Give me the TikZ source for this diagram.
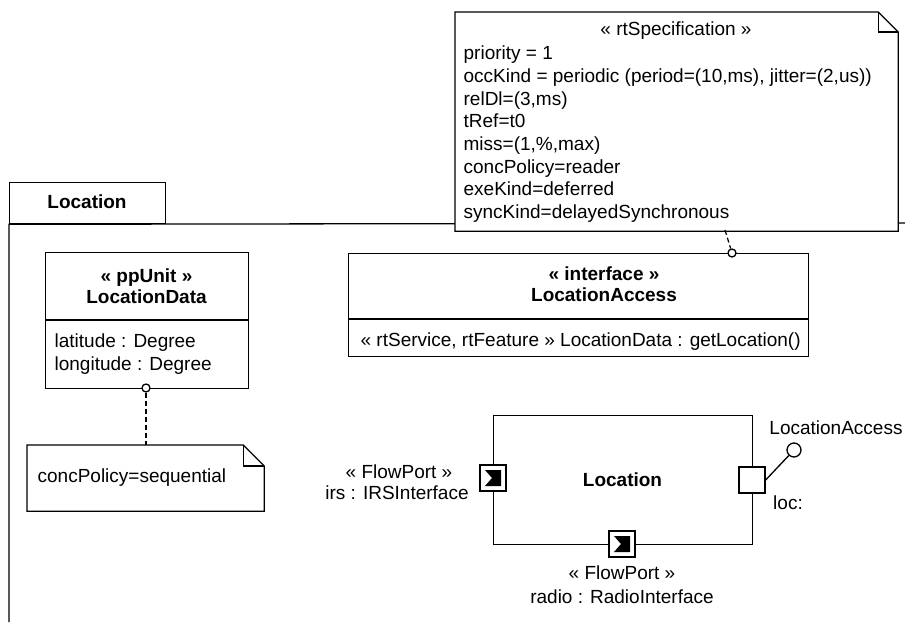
\documentclass[tikz,border=0pt]{standalone}
\usepackage{fontspec}
\setmainfont{Liberation Sans}
\begin{document}
\begin{tikzpicture}[x=1pt,y=-1pt,line width=1.3pt,
  txt/.style={inner sep=0pt,font=\fontsize{19}{22.7}\selectfont},
  btxt/.style={inner sep=0pt,font=\fontsize{19}{22.7}\selectfont\bfseries},
  rect/.style={draw,inner sep=0pt,fill=white},
  blank/.style={inner sep=0pt},
  port/.style={draw,fill=white,inner sep=0pt,minimum size=26pt},
  lolli/.style={circle,draw,fill=white,inner sep=0pt,minimum size=8pt},
  dep/.style={dash pattern=on 5pt off 3pt,line width=1.2pt}]
\useasboundingbox (0,0) rectangle (905,622);

% package frame
\node[rect,minimum width=156pt,minimum height=41pt,anchor=north west] (tab) at (9,182) {};
\node[btxt] (tabl) at (87,202) {Location};
\coordinate (fr1) at (9,622);
\coordinate (fr2) at (905,223);
\draw (fr1) -- (tab.south west) -- (fr2);

% LocationData class
\node[rect,minimum width=203pt,minimum height=136pt,anchor=north west] (ld) at (45,252) {};
\draw ([yshift=-68pt]ld.north west) -- ([yshift=-68pt]ld.north east);
\node[btxt,anchor=base] (ldst) at (146.5,282) {« ppUnit »};
\node[btxt,anchor=base] (ldnm) at (146.5,303) {LocationData};
\node[txt,anchor=base west] (lda1) at (54,347) {latitude : Degree};
\node[txt,anchor=base west] (lda2) at (54,370) {longitude : Degree};

% note concPolicy
\node[blank,minimum width=236pt,minimum height=65pt,anchor=north west] (n1) at (27,445) {};
\draw[fill=white] (n1.north west) -- ([xshift=-21pt]n1.north east) -- ([yshift=-21pt]n1.north east) -- (n1.south east) -- (n1.south west) -- cycle;
\draw ([xshift=-21pt]n1.north east) -- ([xshift=-21pt,yshift=-21pt]n1.north east) -- ([yshift=-21pt]n1.north east);
\node[txt,anchor=base west] (n1t) at (37,482) {concPolicy=sequential};
\node[lolli] (ldc) at (146,388) {};
\draw[dep] (ldc.south) -- (ldc.south |- n1.north);

% LocationAccess interface
\node[rect,minimum width=460pt,minimum height=103pt,anchor=north west] (la) at (348,253) {};
\draw ([yshift=-66pt]la.north west) -- ([yshift=-66pt]la.north east);
\node[btxt,anchor=base] (last) at (604,280) {« interface »};
\node[btxt,anchor=base] (lanm) at (604,301) {LocationAccess};
\node[txt,anchor=base west] (laop) at (360,346) {« rtService, rtFeature » LocationData : getLocation()};

% rtSpecification note
\node[blank,minimum width=442pt,minimum height=218pt,anchor=north west] (n2) at (455,12) {};
\draw[fill=white] (n2.north west) -- ([xshift=-20pt]n2.north east) -- ([yshift=-20pt]n2.north east) -- (n2.south east) -- (n2.south west) -- cycle;
\draw ([xshift=-20pt]n2.north east) -- ([xshift=-20pt,yshift=-20pt]n2.north east) -- ([yshift=-20pt]n2.north east);
\node[txt,anchor=base] (n2t) at (676,35) {« rtSpecification »};
\node[txt,anchor=base west] (n2a) at (463,59.7) {priority = 1};
\node[txt,anchor=base west] (n2b) at (463,82.4) {occKind = periodic (period=(10,ms), jitter=(2,us))};
\node[txt,anchor=base west] (n2c) at (463,105.1) {relDl=(3,ms)};
\node[txt,anchor=base west] (n2d) at (463,127.8) {tRef=t0};
\node[txt,anchor=base west] (n2e) at (463,150.5) {miss=(1,\%,max)};
\node[txt,anchor=base west] (n2f) at (463,173.2) {concPolicy=reader};
\node[txt,anchor=base west] (n2g) at (463,195.9) {exeKind=deferred};
\node[txt,anchor=base west] (n2h) at (463,218.6) {syncKind=delayedSynchronous};
\node[lolli] (lac) at (732,253) {};
\coordinate (n2c1) at (725,230);
\draw[dep] (n2c1) -- (lac);

% component Location
\node[rect,minimum width=259pt,minimum height=129pt,anchor=north west] (comp) at (493,415) {};
\node[btxt] (compl) at (622.5,479.5) {Location};
\node[port] (pin) at (493,478) {};
\fill[shift={(pin.center)}] (-8,-8) -- (8,-8) -- (8,8) -- (-8,8) -- (-1,0) -- cycle;
\node[port] (prad) at (622,544) {};
\fill[shift={(prad.center)}] (-8,-8) -- (8,-8) -- (8,8) -- (-8,8) -- (-1,0) -- cycle;
\node[port] (ploc) at (752,480) {};
\node[circle,draw,fill=white,inner sep=0pt,minimum size=14pt] (lp) at (794,450) {};
\draw (ploc.east) -- (lp);

% labels
\node[txt,anchor=base] (lpl) at (836,434.5) {LocationAccess};
\node[txt,anchor=base] (locl) at (788,509) {loc:};
\node[txt,anchor=base] (pinl1) at (399,478.7) {« FlowPort »};
\node[txt,anchor=base] (pinl2) at (397,499.7) {irs : IRSInterface};
\node[txt,anchor=base] (pradl1) at (622,579.7) {« FlowPort »};
\node[txt,anchor=base] (pradl2) at (622,603) {radio : RadioInterface};
\end{tikzpicture}
\end{document}
